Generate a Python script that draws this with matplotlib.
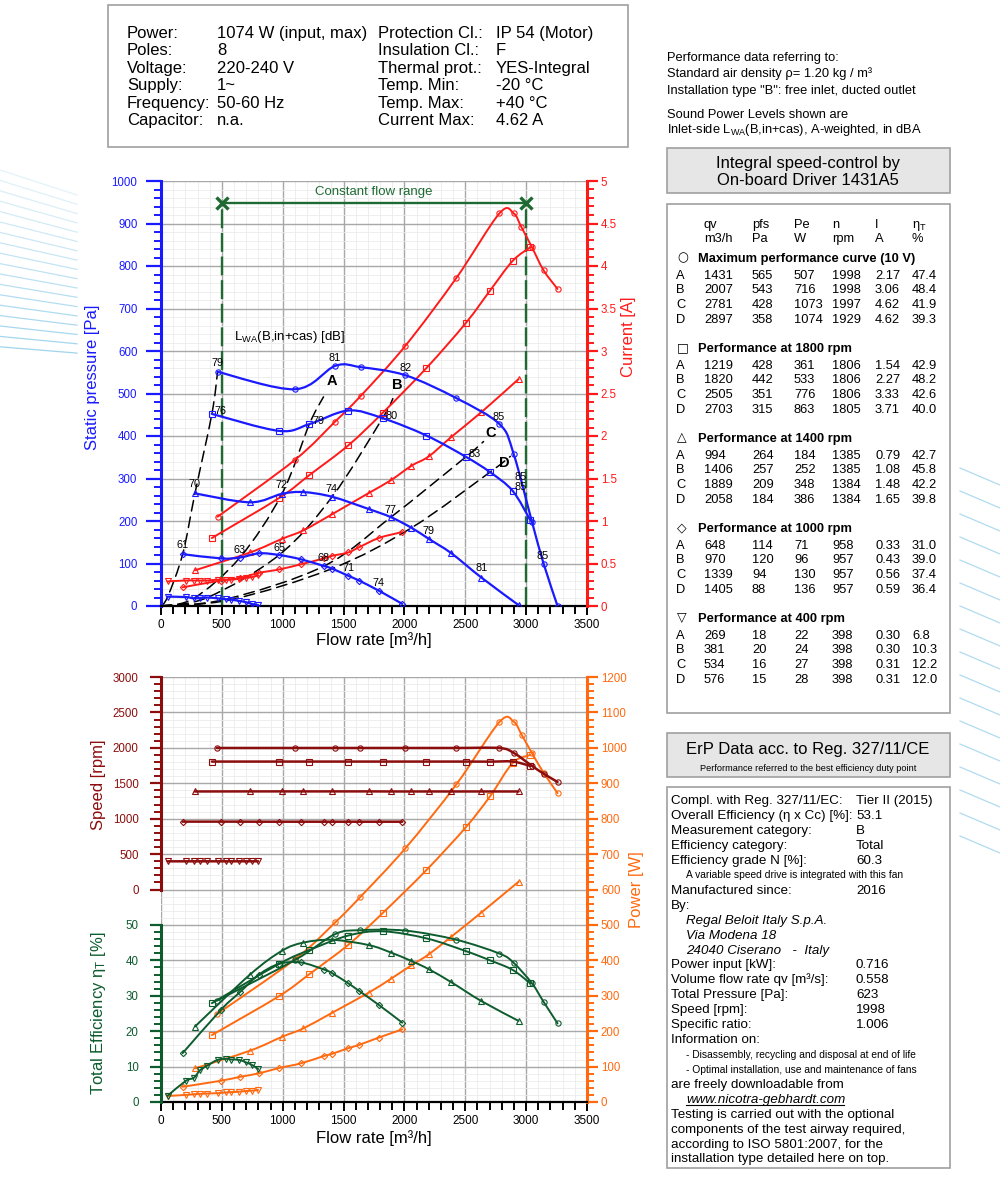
import matplotlib
matplotlib.use("Agg")
import matplotlib.pyplot as plt
from matplotlib.patches import Rectangle, PathPatch
from matplotlib.path import Path
from matplotlib.lines import Line2D
from matplotlib.ticker import MultipleLocator, FuncFormatter

plt.rcParams['font.family'] = ['Liberation Sans', 'DejaVu Sans']
plt.rcParams['mathtext.fontset'] = 'custom'
plt.rcParams['mathtext.rm'] = 'Liberation Sans'
plt.rcParams['mathtext.it'] = 'Liberation Sans:italic'
plt.rcParams['mathtext.bf'] = 'Liberation Sans:bold'

# ---------------- data ----------------
# Maximum performance curve (10 V)
q_max_p = [465, 1101, 1431, 1640, 2007, 2427, 2781, 2897, 3048, 3143, 3258]
pfs_max = [551, 510, 565, 562, 543, 489, 428, 358, 198, 100, 0]
q_max_i = [465, 1101, 1431, 1640, 2007, 2427, 2781, 2897, 2960, 3048, 3143, 3258]
cur_max = [1.05, 1.72, 2.17, 2.47, 3.06, 3.86, 4.62, 4.62, 4.46, 4.22, 3.95, 3.73]
q_max_w = [459, 1101, 1431, 1635, 2007, 2427, 2781, 2897, 2966, 3048, 3143, 3258]
pow_max = [248, 403, 507, 578, 716, 897, 1073, 1074, 1035, 985, 930, 872]
q_max_s = [459, 1101, 1431, 1635, 2007, 2427, 2781, 2897, 3048, 3143, 3258]
spd_max = [1998, 1998, 1998, 1998, 1998, 1998, 1997, 1929, 1745, 1636, 1518]
eff_max = [28.6, 40.1, 47.4, 48.5, 48.4, 45.8, 41.9, 39.3, 33.5, 28.3, 22.2]

# 1800 rpm
q_18 = [418, 970, 1219, 1539, 1820, 2181, 2505, 2703, 2889, 3034]
pfs_18 = [452, 412, 428, 460, 442, 401, 351, 315, 271, 202]
cur_18 = [0.80, 1.27, 1.54, 1.89, 2.27, 2.80, 3.33, 3.71, 4.06, 4.22]
pow_18 = [189, 299, 361, 444, 533, 655, 776, 863, 957, 980]
spd_18 = [1806, 1806, 1806, 1806, 1806, 1806, 1806, 1805, 1806, 1745]
eff_18 = [27.9, 39.0, 42.9, 47.0, 48.2, 46.2, 42.6, 40.0, 37.3, 33.5]

# 1400 rpm
q_14 = [279, 732, 994, 1170, 1406, 1708, 1889, 2058, 2200, 2386, 2632, 2938]
pfs_14 = [265, 244, 264, 268, 257, 228, 209, 184, 158, 124, 67, 2]
cur_14 = [0.42, 0.63, 0.79, 0.89, 1.08, 1.33, 1.48, 1.65, 1.76, 1.99, 2.28, 2.67]
pow_14 = [95, 145, 184, 208, 252, 309, 348, 386, 417, 467, 535, 622]
spd_14 = [1384, 1385, 1385, 1385, 1385, 1385, 1384, 1384, 1384, 1384, 1384, 1384]
eff_14 = [21.3, 36.0, 42.7, 45.0, 45.8, 44.3, 42.2, 39.8, 37.5, 33.8, 28.5, 22.9]

# 1000 rpm
q_10 = [178, 492, 648, 806, 970, 1148, 1339, 1405, 1539, 1626, 1790, 1982]
pfs_10 = [122, 112, 114, 124, 120, 110, 94, 88, 71, 60, 36, 5]
cur_10 = [0.22, 0.30, 0.33, 0.39, 0.43, 0.49, 0.56, 0.59, 0.63, 0.69, 0.80, 0.87]
pow_10 = [43, 60, 71, 81, 96, 109, 130, 136, 152, 161, 182, 205]
spd_10 = [958, 958, 958, 957, 957, 957, 957, 957, 957, 957, 957, 957]
eff_10 = [13.8, 26.0, 31.0, 36.0, 39.0, 39.4, 37.4, 36.4, 33.5, 31.4, 27.4, 22.4]

# 400 rpm
q_04 = [55, 205, 269, 322, 381, 465, 534, 576, 642, 697, 746, 798]
pfs_04 = [22, 21, 18, 19, 20, 18, 16, 15, 12, 9, 5, 2]
cur_04 = [0.29, 0.30, 0.30, 0.30, 0.30, 0.31, 0.31, 0.31, 0.32, 0.33, 0.34, 0.36]
pow_04 = [17, 20, 22, 23, 24, 25, 27, 28, 29, 31, 32, 34]
spd_04 = [398, 398, 398, 398, 398, 398, 398, 398, 398, 398, 398, 398]
eff_04 = [1.8, 6.0, 6.8, 9.0, 10.3, 11.9, 12.2, 12.0, 11.9, 11.2, 10.5, 9.3]

# system (duty point) lines, dashed
sys_start_q = [0, 55, 178, 279, 418, 465]
sys_start_p = [0, 22, 122, 265, 452, 551]
sys_A_q = [0, 269, 648, 994, 1219, 1335]
sys_A_p = [0, 18, 114, 264, 428, 492]
sys_B_q = [0, 381, 970, 1406, 1820, 1905]
sys_B_p = [0, 20, 120, 257, 442, 488]
sys_C_q = [0, 534, 1339, 1889, 2505, 2650]
sys_C_p = [0, 16, 94, 209, 351, 387]
sys_D_q = [0, 576, 1405, 2058, 2703, 2870]
sys_D_p = [0, 15, 88, 184, 315, 352]
duty_labels = ['A', 'B', 'C', 'D']
duty_lab_q = [1402, 1940, 2711, 2821]
duty_lab_p = [529, 521, 406, 336]

# sound power levels [dB]
snd_t = ['79', '81', '82', '85', '85', '76', '79', '80', '83', '85', '70', '72', '74',
         '77', '79', '81', '61', '63', '65', '68', '71', '74', '85']
snd_q = [465, 1430, 2009, 2774, 2958, 492, 1296, 1894, 2575, 2958, 279, 993, 1402,
         1886, 2195, 2632, 178, 642, 970, 1334, 1539, 1790, 3137]
snd_p = [572, 584, 560, 445, 304, 460, 436, 448, 357, 281, 287, 284, 275,
         226, 177, 89, 143, 132, 137, 112, 89, 53, 118]

# constant flow range
cf_q = [500, 3000]
cf_p = 948

# table on the right
tab_titles = ['Maximum performance curve (10 V)', 'Performance at 1800 rpm',
              'Performance at 1400 rpm', 'Performance at 1000 rpm', 'Performance at 400 rpm']
tab_symbols = ['\u25CB', '\u25A1', '\u25B3', '\u25C7', '\u25BD']
tab_rows = [
    [['1431', '565', '507', '1998', '2.17', '47.4'], ['2007', '543', '716', '1998', '3.06', '48.4'],
     ['2781', '428', '1073', '1997', '4.62', '41.9'], ['2897', '358', '1074', '1929', '4.62', '39.3']],
    [['1219', '428', '361', '1806', '1.54', '42.9'], ['1820', '442', '533', '1806', '2.27', '48.2'],
     ['2505', '351', '776', '1806', '3.33', '42.6'], ['2703', '315', '863', '1805', '3.71', '40.0']],
    [['994', '264', '184', '1385', '0.79', '42.7'], ['1406', '257', '252', '1385', '1.08', '45.8'],
     ['1889', '209', '348', '1384', '1.48', '42.2'], ['2058', '184', '386', '1384', '1.65', '39.8']],
    [['648', '114', '71', '958', '0.33', '31.0'], ['970', '120', '96', '957', '0.43', '39.0'],
     ['1339', '94', '130', '957', '0.56', '37.4'], ['1405', '88', '136', '957', '0.59', '36.4']],
    [['269', '18', '22', '398', '0.30', '6.8'], ['381', '20', '24', '398', '0.30', '10.3'],
     ['534', '16', '27', '398', '0.31', '12.2'], ['576', '15', '28', '398', '0.31', '12.0']],
]

# ---------------- figure helpers ----------------
W, H = 1000, 1183
fig = plt.figure(figsize=(10, 11.83), dpi=100)


def fx(x):
    return x / W


def fy(y):
    return 1 - y / H


def T(x, y, s, **kw):
    """Text whose capital letters are centred on pixel row y (baseline aligned)."""
    fs = kw.get('fontsize', 10)
    if 'va' not in kw:
        kw['va'] = 'baseline'
        y = y + 0.497 * fs
    kw.setdefault('ha', 'left')
    return fig.text(fx(x), fy(y), s, **kw)


def box(x0, y0, x1, y1, fc='white', ec='#a0a0a0', lw=1.2):
    fig.add_artist(Rectangle((fx(x0), fy(y1)), (x1 - x0) / W, (y1 - y0) / H,
                             transform=fig.transFigure, fc=fc, ec=ec, lw=lw, zorder=0))


def smooth(ax, xs, ys, color, lw, z=3, ls='solid', clip=True):
    """Smooth (Catmull-Rom style Bezier) path through the given points."""
    pts = list(zip(xs, ys))
    n = len(pts)
    verts = [pts[0]]
    codes = [Path.MOVETO]
    for i in range(n - 1):
        p0 = pts[i - 1] if i > 0 else pts[i]
        p1, p2 = pts[i], pts[i + 1]
        p3 = pts[i + 2] if i + 2 < n else pts[i + 1]
        c1 = (p1[0] + (p2[0] - p0[0]) / 6, p1[1] + (p2[1] - p0[1]) / 6)
        c2 = (p2[0] - (p3[0] - p1[0]) / 6, p2[1] - (p3[1] - p1[1]) / 6)
        verts += [c1, c2, p2]
        codes += [Path.CURVE4] * 3
    ax.add_patch(PathPatch(Path(verts, codes), fill=False, ec=color, lw=lw, zorder=z,
                           ls=ls, clip_on=clip, capstyle='round'))


def curve(ax, xs, ys, color, lw, marker, z=3):
    smooth(ax, xs, ys, color, lw, z=z)
    ax.plot(xs, ys, ls='none', marker=marker, ms=3.8 if marker != 'D' else 3.2,
            mfc='none', mec=color, mew=0.8, zorder=z)


C_P = '#1a1aff'
C_I = '#ff1a1a'
C_S = '#8c0d0d'
C_W = '#ff6a10'
C_E = '#0d5c2e'
C_G = '#1d6b33'
GRID_MAJ = '#a8a8a8'
GRID_MIN = '#ebebeb'

# decorative streaks
for i in range(18):
    y0 = 170 + i * 10.4
    y1 = 195 + i * 9.3
    fig.add_artist(Line2D([0, fx(77)], [fy(y0), fy(y1)], transform=fig.transFigure,
                          color='#8fcdea', lw=0.9, alpha=0.25 + 0.6 * i / 17))
for i in range(17):
    y0 = 468 + i * 23
    fig.add_artist(Line2D([fx(960), fx(1000)], [fy(y0), fy(y0 + 17)], transform=fig.transFigure,
                          color='#8fcdea', lw=0.9, alpha=0.7))

# ---------------- info box ----------------
box(108, 5, 628, 147)
info_l1 = ['Power:', 'Poles:', 'Voltage:', 'Supply:', 'Frequency:', 'Capacitor:']
info_v1 = ['1074 W (input, max)', '8', '220-240 V', '1~', '50-60 Hz', 'n.a.']
info_l2 = ['Protection Cl.:', 'Insulation Cl.:', 'Thermal prot.:', 'Temp. Min:', 'Temp. Max:', 'Current Max:']
info_v2 = ['IP 54 (Motor)', 'F', 'YES-Integral', '-20 °C', '+40 °C', '4.62 A']
for i in range(6):
    yy = 32 + i * 17.5
    T(127, yy, info_l1[i], fontsize=12)
    T(217, yy, info_v1[i], fontsize=12)
    T(378, yy, info_l2[i], fontsize=12)
    T(496, yy, info_v2[i], fontsize=12)

# notes on the right
T(667, 56, 'Performance data referring to:', fontsize=9.3)
T(667, 72, 'Standard air density \u03c1= 1.20 kg / m\u00b3', fontsize=9.3)
T(667, 89, 'Installation type "B": free inlet, ducted outlet', fontsize=9.3)
T(667, 113, 'Sound Power Levels shown are', fontsize=9.3)
T(667, 128, r'Inlet-side L$_{\mathrm{WA}}$(B,in+cas), A-weighted, in dBA', fontsize=9.3)

# ---------------- table box ----------------
box(667, 148, 950, 193, fc='#e6e6e6')
T(808, 162, 'Integral speed-control by', fontsize=12, ha='center')
T(808, 179, 'On-board Driver 1431A5', fontsize=12, ha='center')
box(667, 204, 950, 713)
col_x = [704, 752, 794, 832, 875, 912]
hdr1 = ['qv', 'pfs', 'Pe', 'n', 'I', '\u03b7$_\\mathrm{T}$']
hdr2 = ['m3/h', 'Pa', 'W', 'rpm', 'A', '%']
for cx, a, b in zip(col_x, hdr1, hdr2):
    T(cx, 223, a, fontsize=9.3)
    T(cx, 237, b, fontsize=9.3)
title_y = [257, 347, 437, 527, 617]
row_off = [17, 31, 46, 61]
for s in range(5):
    ty = title_y[s]
    T(677, ty, tab_symbols[s], fontsize=9, family=['DejaVu Sans'])
    T(698, ty, tab_titles[s], fontsize=9.3, weight='bold')
    for r in range(4):
        yy = ty + row_off[r]
        T(676, yy, duty_labels[r], fontsize=9.3)
        for cx, val in zip(col_x, tab_rows[s][r]):
            T(cx, yy, val, fontsize=9.3)

# ---------------- ErP box ----------------
box(667, 733, 950, 777, fc='#e6e6e6')
T(808, 748, 'ErP Data acc. to Reg. 327/11/CE', fontsize=12, ha='center')
T(808, 768, 'Performance referred to the best efficiency duty point', fontsize=6.6, ha='center')
box(667, 787, 950, 1168)
erp = [
    (799, 'Compl. with Reg. 327/11/EC:', 'Tier II (2015)', 'n'),
    (814, 'Overall Efficiency (\u03b7 x Cc) [%]:', '53.1', 'n'),
    (829, 'Measurement category:', 'B', 'n'),
    (844, 'Efficiency category:', 'Total', 'n'),
    (859, 'Efficiency grade N [%]:', '60.3', 'n'),
    (874, 'A variable speed drive is integrated with this fan', '', 's'),
    (889, 'Manufactured since:', '2016', 'n'),
    (904, 'By:', '', 'n'),
    (919, 'Regal Beloit Italy S.p.A.', '', 'i'),
    (934, 'Via Modena 18', '', 'i'),
    (949, '24040 Ciserano   -  Italy', '', 'i'),
    (963, 'Power input [kW]:', '0.716', 'n'),
    (978, 'Volume flow rate qv [m\u00b3/s]:', '0.558', 'n'),
    (993, 'Total Pressure [Pa]:', '623', 'n'),
    (1008, 'Speed [rpm]:', '1998', 'n'),
    (1023, 'Specific ratio:', '1.006', 'n'),
    (1038, 'Information on:', '', 'n'),
    (1054, '- Disassembly, recycling and disposal at end of life', '', 's'),
    (1069, '- Optimal installation, use and maintenance of fans', '', 's'),
    (1083, 'are freely downloadable from', '', 'n'),
    (1098, 'www.nicotra-gebhardt.com', '', 'i'),
    (1113, 'Testing is carried out with the optional', '', 'n'),
    (1128, 'components of the test airway required,', '', 'n'),
    (1143, 'according to ISO 5801:2007, for the', '', 'n'),
    (1157, 'installation type detailed here on top.', '', 'n'),
]
for yy, lab, val, st in erp:
    if st == 'n':
        T(671, yy, lab, fontsize=9.6)
        if val:
            T(856, yy, val, fontsize=9.6)
    elif st == 's':
        T(686, yy, lab, fontsize=7.4)
    else:
        T(686, yy, lab, fontsize=9.6, style='italic')
fig.add_artist(Line2D([fx(686), fx(844)], [fy(1105), fy(1105)], transform=fig.transFigure,
                      color='black', lw=0.8))


def style_left(a, col, maj_len=11, pad=6):
    a.tick_params(axis='y', which='major', length=maj_len, width=1.6, color=col, labelcolor=col,
                  labelsize=8.3, pad=pad)
    a.tick_params(axis='y', which='minor', length=5, width=1.4, color=col)


def style_x(a):
    a.xaxis.set_major_locator(MultipleLocator(500))
    a.xaxis.set_minor_locator(MultipleLocator(100))
    a.tick_params(axis='x', which='major', length=6.5, width=1.4, labelsize=8.5, pad=3)
    a.tick_params(axis='x', which='minor', length=5.5, width=1.4)


# ---------------- top chart ----------------
ax1 = fig.add_axes([fx(161), fy(606), 426 / W, 425 / H])
ax1.set_xlim(0, 3500)
ax1.set_ylim(0, 1000)
style_x(ax1)
ax1.yaxis.set_major_locator(MultipleLocator(100))
ax1.yaxis.set_minor_locator(MultipleLocator(20))
ax1.grid(which='major', color=GRID_MAJ, lw=1.0)
ax1.grid(which='minor', color=GRID_MIN, lw=0.6)
ax1.set_axisbelow(True)
for sp in ['top', 'right']:
    ax1.spines[sp].set_visible(False)
ax1.spines['left'].set_color(C_P)
ax1.spines['left'].set_linewidth(2.2)
ax1.spines['bottom'].set_linewidth(1.6)
style_left(ax1, C_P)

ax2 = ax1.twinx()
ax2.set_ylim(0, 5)
ax2.yaxis.set_major_locator(MultipleLocator(0.5))
ax2.yaxis.set_minor_locator(MultipleLocator(0.1))
ax2.yaxis.set_major_formatter(FuncFormatter(lambda v, p: f'{v:g}'))
for sp in ['top', 'left', 'bottom']:
    ax2.spines[sp].set_visible(False)
ax2.spines['right'].set_color(C_I)
ax2.spines['right'].set_linewidth(2.2)
style_left(ax2, C_I, maj_len=8, pad=2)

# dashed system lines
for qq, pp in [(sys_start_q, sys_start_p), (sys_A_q, sys_A_p), (sys_B_q, sys_B_p),
               (sys_C_q, sys_C_p), (sys_D_q, sys_D_p)]:
    smooth(ax1, qq, pp, 'black', 1.1, z=2, ls=(0, (7, 4)))

# constant flow range
for q in cf_q:
    ax1.plot([q, q], [0, cf_p], color=C_G, lw=1.7, ls=(0, (8, 2)), zorder=2)
ax1.plot(cf_q, [cf_p, cf_p], color=C_G, lw=1.7, zorder=3)
ax1.plot(cf_q, [cf_p, cf_p], ls='none', marker='x', ms=8, mew=2.4, color=C_G, zorder=4)
ax1.text(1750, 975, 'Constant flow range', color=C_G, fontsize=9.5, ha='center', va='center')

# current curves
for qq, yy, m in [(q_max_i, cur_max, 'o'), (q_18, cur_18, 's'), (q_14, cur_14, '^'),
                  (q_10, cur_10, 'D'), (q_04, cur_04, 'v')]:
    curve(ax2, qq, yy, C_I, 1.4, m, z=3)
# pressure curves (drawn on the current axes, pressure scale = current scale x 200)
for qq, yy, m in [(q_max_p, pfs_max, 'o'), (q_18, pfs_18, 's'), (q_14, pfs_14, '^'),
                  (q_10, pfs_10, 'D'), (q_04, pfs_04, 'v')]:
    curve(ax2, qq, [v / 200 for v in yy], C_P, 1.6, m, z=4)

for t, q, p in zip(snd_t, snd_q, snd_p):
    ax2.text(q, p / 200, t, fontsize=7.8, ha='center', va='center', zorder=5)
for t, q, p in zip(duty_labels, duty_lab_q, duty_lab_p):
    ax2.text(q, p / 200, t, fontsize=10.5, weight='bold', ha='center', va='center', zorder=5)
ax1.text(596, 634, r'L$_{\mathrm{WA}}$(B,in+cas) [dB]', fontsize=9.5, ha='left', va='center')

T(92, 377, 'Static pressure [Pa]', fontsize=12, color=C_P, rotation=90, ha='center', va='center')
T(628, 337, 'Current [A]', fontsize=12, color=C_I, rotation=90, ha='center', va='center')
T(374, 640, 'Flow rate [m\u00b3/h]', fontsize=12, ha='center', va='center')

# ---------------- bottom chart ----------------
b0 = fy(1102)
hh = 425 / H
axp = fig.add_axes([fx(161), b0, 426 / W, hh])
axp.set_xlim(0, 3500)
axp.set_ylim(0, 1200)
style_x(axp)
axp.yaxis.set_major_locator(MultipleLocator(100))
axp.yaxis.set_minor_locator(MultipleLocator(20))
axp.grid(which='major', color=GRID_MAJ, lw=1.0)
axp.grid(which='minor', color=GRID_MIN, lw=0.6)
axp.set_axisbelow(True)
axp.yaxis.tick_right()
for sp in ['top', 'left']:
    axp.spines[sp].set_visible(False)
axp.spines['right'].set_color(C_W)
axp.spines['right'].set_linewidth(2.2)
axp.spines['bottom'].set_linewidth(1.6)
style_left(axp, C_W, maj_len=8, pad=2)

axs = fig.add_axes([fx(161), b0 + hh * 0.5, 426 / W, hh * 0.5])
axe = fig.add_axes([fx(161), b0, 426 / W, hh * 500 / 1200])
for a, col, top, maj, mnr in [(axs, C_S, 3000, 500, 100), (axe, C_E, 50, 10, 2)]:
    a.set_xlim(0, 3500)
    a.set_ylim(0, top)
    a.patch.set_visible(False)
    for sp in ['top', 'right', 'bottom']:
        a.spines[sp].set_visible(False)
    a.spines['left'].set_color(col)
    a.spines['left'].set_linewidth(2.2)
    a.set_xticks([])
    a.yaxis.set_major_locator(MultipleLocator(maj))
    a.yaxis.set_minor_locator(MultipleLocator(mnr))
    style_left(a, col, maj_len=8, pad=8)

for qq, yy, m in [(q_max_w, pow_max, 'o'), (q_18, pow_18, 's'), (q_14, pow_14, '^'),
                  (q_10, pow_10, 'D'), (q_04, pow_04, 'v')]:
    curve(axp, qq, yy, C_W, 1.4, m, z=3)
for qq, yy, m in [(q_max_s, spd_max, 'o'), (q_18, spd_18, 's'), (q_14, spd_14, '^'),
                  (q_10, spd_10, 'D'), (q_04, spd_04, 'v')]:
    curve(axs, qq, yy, C_S, 1.8, m, z=4)
for qq, yy, m in [(q_max_s, eff_max, 'o'), (q_18, eff_18, 's'), (q_14, eff_14, '^'),
                  (q_10, eff_10, 'D'), (q_04, eff_04, 'v')]:
    curve(axe, qq, yy, C_E, 1.4, m, z=4)

T(98, 785, 'Speed [rpm]', fontsize=12, color=C_S, rotation=90, ha='center', va='center')
T(98, 1013, 'Total Efficiency \u03b7$_\\mathrm{T}$ [%]', fontsize=12, color=C_E, rotation=90,
  ha='center', va='center')
T(637, 890, 'Power [W]', fontsize=12, color=C_W, rotation=90, ha='center', va='center')
T(374, 1138, 'Flow rate [m\u00b3/h]', fontsize=12, ha='center', va='center')

fig.savefig('out.png', dpi=100)
